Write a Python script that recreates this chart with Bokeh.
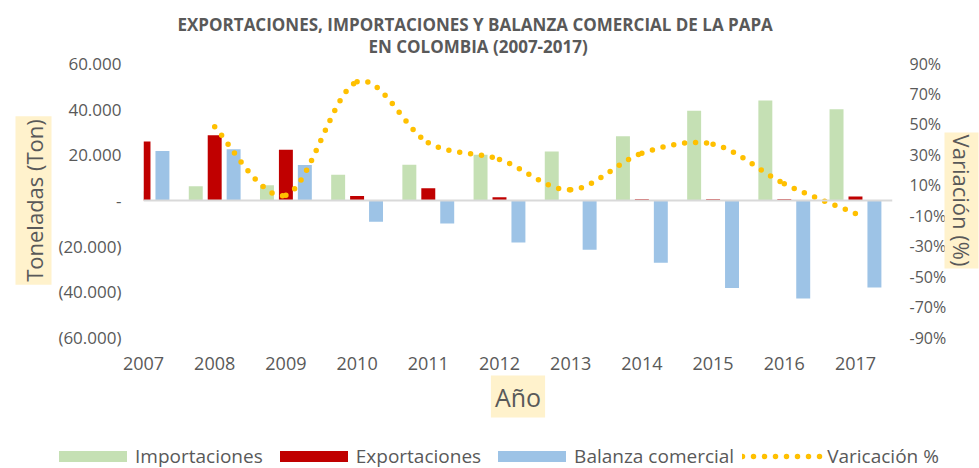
from bokeh.plotting import figure
from bokeh.models import (ColumnDataSource, Range1d, LinearAxis, FixedTicker, Span,
                          Title, Legend, LegendItem)
from bokeh.transform import dodge
from bokeh.embed import file_html
from bokeh.resources import INLINE

# ---------------- data ----------------
years = [2007, 2008, 2009, 2010, 2011, 2012, 2013, 2014, 2015, 2016, 2017]
year_labels = ["2007", "2008", "2009", "2010", "2011", "2012", "2013", "2014", "2015", "2016", "2017"]
importaciones = [4100, 6200, 6650, 11300, 15650, 20000, 21500, 28100, 39300, 43800, 40000]
exportaciones = [25800, 28600, 22200, 2000, 5400, 1400, 100, 600, 600, 600, 1800]
balanza = [21700, 22400, 15600, -9300, -10100, -18400, -21600, -27300, -38300, -42900, -38100]
var_years = [2008, 2009, 2010, 2011, 2012, 2013, 2014, 2015, 2016, 2017]
variacion = [48.4, 3.5, 78.0, 38.0, 27.0, 7.0, 31.0, 37.0, 11.0, -8.5]

y_ticks = [60000, 40000, 20000, 0, -20000, -40000, -60000]
y_tick_labels = ["60.000", "40.000", "20.000", "-", "(20.000)", "(40.000)", "(60.000)"]
pct_ticks = [90, 70, 50, 30, 10, -10, -30, -50, -70, -90]
pct_tick_labels = ["90%", "70%", "50%", "30%", "10%", "-10%", "-30%", "-50%", "-70%", "-90%"]

title_lines = ["EXPORTACIONES, IMPORTACIONES Y BALANZA COMERCIAL DE LA PAPA",
               "EN COLOMBIA (2007-2017)"]
axis_titles = ["Toneladas (Ton)", "Variación (%)", "Año"]
series_names = ["Importaciones", "Exportaciones", "Balanza comercial", "Varicación %"]

# ---------------- style ----------------
FONT = "Open Sans"
GRAY = "#595959"
C_IMP = "#C5E0B4"
C_EXP = "#C00000"
C_BAL = "#9DC3E6"
C_VAR = "#FFC000"
BOX = "#FFF2CC"
VAR_STYLE = dict(line_color=C_VAR, line_width=5.5, line_dash="0 11", line_cap="round")

p = figure(width=979, height=440, output_backend="svg", toolbar_location=None,
           x_range=Range1d(2007.0, 2017.52), y_range=Range1d(-60000, 60000),
           min_border_left=143, min_border_right=87, min_border_top=63, min_border_bottom=103)
p.outline_line_color = None
p.grid.visible = False
p.background_fill_color = "white"
p.border_fill_color = "white"

p.extra_y_ranges = {"pct": Range1d(-90, 90)}

src = ColumnDataSource(dict(year=years, imp=importaciones, exp=exportaciones, bal=balanza))
vsrc = ColumnDataSource(dict(year=var_years, var=variacion))
W = 0.196
p.vbar(x=dodge("year", -0.266, range=p.x_range), top="imp", bottom=0, width=W,
       source=src, fill_color=C_IMP, line_color=None)
p.vbar(x=dodge("year", 0.0, range=p.x_range), top="exp", bottom=0, width=W,
       source=src, fill_color=C_EXP, line_color=None)
p.vbar(x=dodge("year", 0.266, range=p.x_range), top="bal", bottom=0, width=W,
       source=src, fill_color=C_BAL, line_color=None)

p.add_layout(Span(location=0, dimension="width", line_color="#D9D9D9", line_width=2))

# smoothed (Catmull-Rom style) bezier segments through the data points
pts = list(zip(var_years, variacion))
n = len(pts)
seg = dict(x0=[], y0=[], x1=[], y1=[], cx0=[], cy0=[], cx1=[], cy1=[])
for i in range(n - 1):
    P0 = pts[i - 1] if i > 0 else pts[i]
    P1 = pts[i]
    P2 = pts[i + 1]
    P3 = pts[i + 2] if i + 2 < n else pts[i + 1]
    seg["x0"].append(P1[0]); seg["y0"].append(P1[1])
    seg["x1"].append(P2[0]); seg["y1"].append(P2[1])
    seg["cx0"].append(P1[0] + (P2[0] - P0[0]) / 6); seg["cy0"].append(P1[1] + (P2[1] - P0[1]) / 6)
    seg["cx1"].append(P2[0] - (P3[0] - P1[0]) / 6); seg["cy1"].append(P2[1] - (P3[1] - P1[1]) / 6)
p.bezier(x0="x0", y0="y0", x1="x1", y1="y1", cx0="cx0", cy0="cy0", cx1="cx1", cy1="cy1",
         source=ColumnDataSource(seg), y_range_name="pct", **VAR_STYLE)

# axes
xa = p.xaxis[0]
xa.ticker = FixedTicker(ticks=years)
xa.major_label_overrides = {y: l for y, l in zip(years, year_labels)}
ya = p.yaxis[0]
ya.ticker = FixedTicker(ticks=y_ticks)
ya.major_label_overrides = {t: l for t, l in zip(y_ticks, y_tick_labels)}
ra = LinearAxis(y_range_name="pct")
ra.ticker = FixedTicker(ticks=pct_ticks)
ra.major_label_overrides = {t: l for t, l in zip(pct_ticks, pct_tick_labels)}
p.add_layout(ra, "right")

for ax, fs, st in ((xa, "18px", 19), (ya, "17px", 22), (ra, "16px", 17)):
    ax.axis_line_color = None
    ax.major_tick_line_color = None
    ax.minor_tick_line_color = None
    ax.major_tick_out = 0
    ax.major_tick_in = 0
    ax.minor_tick_out = 0
    ax.minor_tick_in = 0
    ax.major_label_text_font = FONT
    ax.major_label_text_font_size = fs
    ax.major_label_text_color = GRAY
    ax.major_label_standoff = st

# chart title (two lines)
t2 = Title(text=title_lines[1], align="left", offset=225, standoff=11,
           text_font=FONT, text_font_style="bold", text_font_size="17px", text_color=GRAY)
t1 = Title(text=title_lines[0], align="left", offset=34, standoff=-17,
           text_font=FONT, text_font_style="bold", text_font_size="17px", text_color=GRAY)
p.add_layout(t2, "above")
p.add_layout(t1, "above")

# axis titles with the pale yellow box
p.add_layout(Title(text=axis_titles[0], align="center", standoff=8, text_font=FONT,
                   text_font_size="22px", text_font_style="normal", text_color=GRAY,
                   background_fill_color=BOX, padding=3), "left")
p.add_layout(Title(text=axis_titles[1], align="center", standoff=-10, text_font=FONT,
                   text_font_size="22px", text_font_style="normal", text_color=GRAY,
                   background_fill_color=BOX, padding=2), "right")
p.add_layout(Title(text=axis_titles[2], align="center", standoff=2, text_font=FONT,
                   text_font_size="25px", text_font_style="normal", text_color=GRAY,
                   background_fill_color=BOX, padding=4), "below")

# ---------------- legend strip (separate root below the chart) ----------------
q = figure(width=979, height=28, output_backend="svg", toolbar_location=None,
           x_range=Range1d(0, 1), y_range=Range1d(0, 1), min_border=0,
           x_axis_type=None, y_axis_type=None)
q.outline_line_color = None
q.grid.visible = False
q.background_fill_color = "white"
q.border_fill_color = "white"
# legend proxies: same series/styles, outside this strip's ranges so only the legend shows
l_imp = q.vbar(x="year", top="imp", width=W, source=src, fill_color=C_IMP, line_color=None)
l_exp = q.vbar(x="year", top="exp", width=W, source=src, fill_color=C_EXP, line_color=None)
l_bal = q.vbar(x="year", top="bal", width=W, source=src, fill_color=C_BAL, line_color=None)
l_var = q.line(x="year", y="var", source=vsrc, **VAR_STYLE)

legend = Legend(items=[LegendItem(label=series_names[0], renderers=[l_imp]),
                       LegendItem(label=series_names[1], renderers=[l_exp]),
                       LegendItem(label=series_names[2], renderers=[l_bal]),
                       LegendItem(label=series_names[3], renderers=[l_var])],
                orientation="horizontal", location=(50, -1),
                glyph_width=85, glyph_height=14, label_standoff=-1, spacing=8,
                padding=0, margin=0, border_line_color=None, background_fill_alpha=0,
                label_text_font=FONT, label_text_font_size="19px", label_text_color=GRAY)
q.add_layout(legend)

open("out.html", "w").write(file_html([p, q], INLINE))
